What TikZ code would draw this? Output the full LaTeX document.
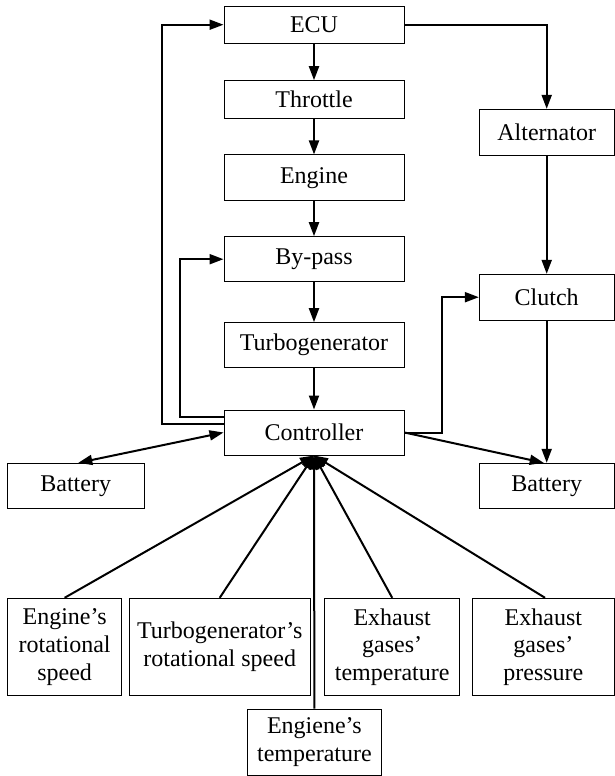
\documentclass[tikz,border=0pt]{standalone}
\usepackage{fontspec}
\setmainfont{Liberation Serif}
\usetikzlibrary{arrows.meta}
\begin{document}
\begin{tikzpicture}[x=1pt,y=-1pt,
  blk/.style={draw,line width=1pt,inner sep=0pt,align=center,
    font=\fontsize{24}{27.6}\selectfont},
  arr/.style={line width=2pt,-{Triangle[length=14pt,width=10pt]}},
  arrb/.style={line width=2pt,{Triangle[length=14pt,width=10pt]}-{Triangle[length=14pt,width=10pt]}}]
\useasboundingbox (0,0) rectangle (615,776);
% main column
\node[blk,minimum width=180pt,minimum height=37.3pt] (ecu) at (314,24.7) {ECU};
\node[blk,minimum width=180pt,minimum height=37.6pt] (thr) at (314,99.5) {Throttle};
\node[blk,minimum width=180pt,minimum height=45.7pt] (eng) at (314,177.8) {Engine};
\node[blk,minimum width=180pt,minimum height=45pt] (byp) at (314,259.2) {By-pass};
\node[blk,minimum width=180pt,minimum height=45pt] (tur) at (314,345.2) {Turbogenerator};
\node[blk,minimum width=180pt,minimum height=45pt] (ctl) at (314,432.5) {Controller};
% right column
\node[blk,minimum width=134.7pt,minimum height=45.7pt] (alt) at (546.7,132.2) {Alternator};
\node[blk,minimum width=134.7pt,minimum height=45.7pt] (clu) at (546.7,297.2) {Clutch};
\node[blk,minimum width=134.7pt,minimum height=45pt] (batr) at (546.7,485.8) {Battery};
% left battery
\node[blk,minimum width=136.7pt,minimum height=45pt] (batl) at (75.7,485.8) {Battery};
% sensors
\node[blk,minimum width=114.2pt,minimum height=97.4pt] (erot) at (64.6,647) {Engine’s\\rotational\\speed};
\node[blk,minimum width=181.3pt,minimum height=97.4pt] (trot) at (219.7,647) {Turbogenerator’s\\rotational speed};
\node[blk,minimum width=135pt,minimum height=97.4pt] (etmp) at (392.2,647) {Exhaust\\gases’\\temperature};
\node[blk,minimum width=141.3pt,minimum height=97.4pt] (epr) at (543.4,647) {Exhaust\\gases’\\pressure};
\node[blk,minimum width=134.7pt,minimum height=66pt] (engt) at (314.4,742) {Engiene’s\\temperature};
% main chain
\draw[arr] (ecu) -- (thr);
\draw[arr] (thr) -- (eng);
\draw[arr] (eng) -- (byp);
\draw[arr] (byp) -- (tur);
\draw[arr] (tur) -- (ctl);
% right chain
\draw[arr] (ecu.east) -| (alt.north);
\draw[arr] (alt) -- (clu);
\draw[arr] (clu) -- (batr);
% feedback loops
\draw[arr] ([yshift=8.2pt]ctl.west) -- ++(-61.7,0) |- (ecu.west);
\draw[arr] ([yshift=15.8pt]ctl.west) -- ++(-43.3,0) |- (byp.west);
\draw[arr] (ctl.east) -- ++(37.6,0) |- (clu.west);
\draw[arr] (ctl.east) -- ([xshift=-3pt]batr.north);
\draw[arrb] ([xshift=2.6pt]batl.north) -- (ctl.west);
% sensors to controller
\draw[arr] (erot.north) -- (ctl.south);
\draw[arr] (trot.north) -- (ctl.south);
\draw[arr] (engt.north) -- (ctl.south);
\draw[arr] (etmp.north) -- (ctl.south);
\draw[arr] ([xshift=1.6pt]epr.north) -- (ctl.south);
\end{tikzpicture}
\end{document}
